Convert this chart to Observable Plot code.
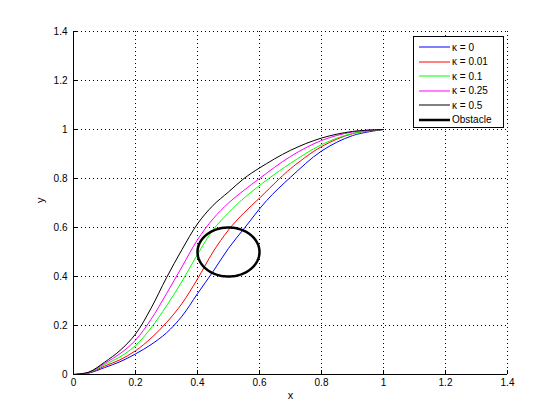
<!DOCTYPE html>
<html>
<head>
<meta charset="utf-8">
<script src="https://cdn.jsdelivr.net/npm/d3@7"></script>
<script src="https://cdn.jsdelivr.net/npm/@observablehq/plot@0.6"></script>
<style>
  body { margin: 0; background: white; }
  #wrap { position: relative; width: 560px; height: 420px; background: white; }
  #legend { position: absolute; left: 413px; top: 36px; width: 89px; height: 90px;
    border: 1px solid black; background: white; font-family: "Liberation Sans", Arial, sans-serif;
    font-size: 10px; }
  .row { position: absolute; left: 0; height: 14px; display: flex; align-items: center; }
  .row svg { margin-left: 5px; margin-right: 2px; }
</style>
</head>
<body>
<div id="wrap"><div id="legend"></div></div>
<script>
// Tick values
const ticks = [0, 0.2, 0.4, 0.6, 0.8, 1, 1.2, 1.4];

// Series labels and colours
const kappas = ["0", "0.01", "0.1", "0.25", "0.5"];
const colors = ["#0000ff", "#ff0000", "#00ff00", "#ff00ff", "#000000"];

// Trajectories [x, y]
const kappa0 = [[0,0],[0.05,0.006],[0.1,0.028],[0.15,0.052],[0.2,0.084],[0.25,0.122],[0.3,0.17],[0.35,0.238],[0.4,0.33],[0.45,0.42],[0.5,0.515],[0.553,0.6],[0.623,0.71],[0.7,0.805],[0.8,0.912],[0.9,0.975],[1,1]];
const kappa001 = [[0,0],[0.05,0.007],[0.1,0.034],[0.15,0.06],[0.2,0.097],[0.25,0.148],[0.3,0.212],[0.35,0.29],[0.4,0.39],[0.45,0.5],[0.5,0.59],[0.55,0.66],[0.6,0.72],[0.665,0.8],[0.7,0.84],[0.8,0.93],[0.9,0.983],[1,1]];
const kappa01 = [[0,0],[0.05,0.008],[0.1,0.04],[0.15,0.072],[0.2,0.118],[0.25,0.19],[0.3,0.28],[0.35,0.38],[0.4,0.49],[0.45,0.59],[0.5,0.66],[0.55,0.72],[0.63,0.8],[0.7,0.862],[0.8,0.938],[0.9,0.984],[1,1]];
const kappa025 = [[0,0],[0.05,0.009],[0.1,0.045],[0.15,0.085],[0.2,0.14],[0.25,0.225],[0.3,0.33],[0.35,0.44],[0.4,0.55],[0.45,0.635],[0.5,0.7],[0.55,0.752],[0.6,0.8],[0.7,0.89],[0.8,0.955],[0.9,0.99],[1,1]];
const kappa05 = [[0,0],[0.05,0.01],[0.1,0.05],[0.15,0.098],[0.2,0.165],[0.25,0.27],[0.3,0.395],[0.35,0.51],[0.4,0.615],[0.45,0.69],[0.5,0.745],[0.55,0.8],[0.6,0.843],[0.7,0.915],[0.8,0.965],[0.9,0.992],[1,1]];

// Obstacle: circle centre and radius
const obstacleCenter = [0.5, 0.5];
const obstacleRadius = 0.1;

const series = [kappa0, kappa001, kappa01, kappa025, kappa05];
const rows = series.flatMap((s, i) => s.map(([x, y]) => ({x, y, k: kappas[i]})));
const circle = d3.range(0, 361, 3).map(a => ({
  x: obstacleCenter[0] + obstacleRadius * Math.cos(a * Math.PI / 180),
  y: obstacleCenter[1] + obstacleRadius * Math.sin(a * Math.PI / 180)
}));
const fmt = d => String(d);

const chart = Plot.plot({
  width: 560, height: 420,
  marginLeft: 73, marginRight: 53, marginTop: 31, marginBottom: 46,
  style: {fontFamily: "'Liberation Sans', Arial, sans-serif", fontSize: "10px", background: "white", color: "black"},
  x: {domain: [0, 1.4]},
  y: {domain: [0, 1.4]},
  color: {domain: kappas, range: colors},
  marks: [
    Plot.ruleX(ticks.slice(1), {stroke: "black", strokeDasharray: "1,3", strokeWidth: 1}),
    Plot.ruleY(ticks.slice(1), {stroke: "black", strokeDasharray: "1,3", strokeWidth: 1}),
    Plot.line(rows, {x: "x", y: "y", z: "k", stroke: "k", strokeWidth: 1, curve: "catmull-rom"}),
    Plot.line(circle, {x: "x", y: "y", stroke: "black", strokeWidth: 2.5}),
    Plot.ruleX([0], {stroke: "black", strokeWidth: 1}),
    Plot.ruleY([0], {stroke: "black", strokeWidth: 1}),
    Plot.axisX({ticks, tickFormat: fmt, tickSize: -4, tickPadding: 8, label: null, fontSize: 10}),
    Plot.axisY({ticks, tickFormat: fmt, tickSize: -4, tickPadding: 10, label: null, fontSize: 10}),
    Plot.text(["x"], {frameAnchor: "bottom", dy: 24, fontSize: 11}),
    Plot.text(["y"], {frameAnchor: "left", dx: -33, rotate: -90, fontSize: 11})
  ]
});
document.getElementById("wrap").prepend(chart);

const legend = document.getElementById("legend");
const labels = kappas.map(k => "\u03BA = " + k).concat(["Obstacle"]);
const lcolors = colors.concat(["#000000"]);
labels.forEach((t, i) => {
  const r = document.createElement("div");
  r.className = "row";
  r.style.top = (3 + i * 14.5) + "px";
  const w = i === 5 ? 2.5 : 1;
  r.innerHTML = `<svg width="31" height="14"><line x1="0" x2="31" y1="7" y2="7" stroke="${lcolors[i]}" stroke-width="${w}"/></svg><span>${t}</span>`;
  legend.appendChild(r);
});
</script>
</body>
</html>
